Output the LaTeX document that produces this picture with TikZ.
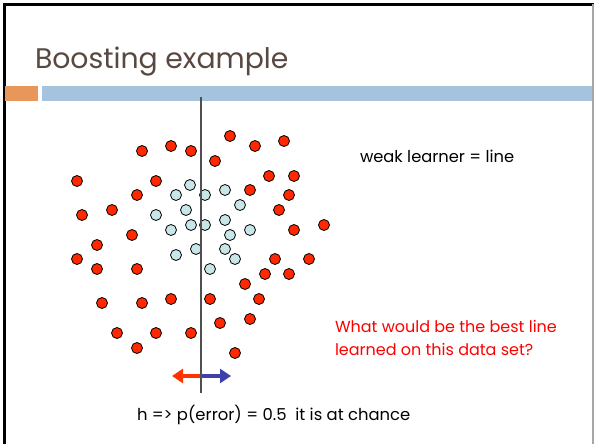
\documentclass[tikz,border=0pt]{standalone}
\usepackage{fontspec}
\setmainfont{Poppins}[Ligatures={NoCommon}]
\usetikzlibrary{arrows.meta}
\definecolor{titlebrown}{RGB}{88,72,64}
\definecolor{barorange}{RGB}{232,150,90}
\definecolor{barblue}{RGB}{165,195,220}
\definecolor{dotred}{RGB}{255,40,0}
\definecolor{dotblue}{RGB}{200,230,232}
\definecolor{txtred}{RGB}{255,0,0}
\definecolor{arrred}{RGB}{255,51,0}
\definecolor{arrblue}{RGB}{64,64,170}
\definecolor{axisgray}{RGB}{80,80,80}
\tikzset{
  reddot/.style={circle,draw=black,line width=0.8pt,fill=dotred,minimum size=11pt,inner sep=0pt},
  bluedot/.style={circle,draw=black,line width=0.8pt,fill=dotblue,minimum size=11pt,inner sep=0pt},
  txt/.style={anchor=base west,inner sep=0pt,outer sep=0pt},
  bigarrow/.style={line width=4.5pt,-{Triangle[width=14pt,length=11pt]}}
}
\begin{document}
\begin{tikzpicture}[x=1pt,y=-1pt]
\useasboundingbox (0,0) rectangle (594,444);
\fill[white] (0,0) rectangle (594,444);
% frame
\draw[black,line width=2.5pt] (4.5,444) -- (4.5,4.5) -- (594,4.5);
\draw[gray!70,line width=1.5pt] (593,4.5) -- (593,444);
% bars
\fill[barorange] (5,86) rectangle (38,100.5);
\fill[barblue] (42,86) rectangle (592,100.5);
% title
\node[txt,text=titlebrown,font=\fontsize{28.3}{34}\selectfont] (title) at (35,69) {Boosting example};
% dots
\foreach \x/\y [count=\i] in {142/151,171/146,191/151,230/136,255/146,284/141,215/161,77/181,156/181,137/195,269/176,294/176,250/190,289/195,82/215,112/210,279/210,132/235,294/230,324/225,97/245,77/259,97/269,137/269,275/259,309/259,265/274,289/274,245/284,102/303,142/303,171/299,210/299,259/299,250/319,220/323,117/333,156/333,191/333,137/348,235/353}
  \node[reddot] (r\i) at (\x,\y) {};
\foreach \x/\y [count=\i] in {190/185,176/195,205/195,225/190,240/205,186/210,156/215,191/225,205/225,225/220,171/230,230/235,250/230,176/255,196/249,225/249,235/259,210/269}
  \node[bluedot] (b\i) at (\x,\y) {};
% arrows
\coordinate (ac) at (201,376);
\coordinate (al) at (172,376);
\coordinate (ar) at (231,376);
\draw[bigarrow,arrred] (ac) -- (al);
\draw[bigarrow,arrblue] (ac) -- (ar);
% separating line
\coordinate (ltop) at (201,97);
\coordinate (lbot) at (201,393);
\draw[axisgray,line width=1.2pt] (ltop) -- (lbot);
% texts
\node[txt,font=\fontsize{16.3}{19}\selectfont] (weak) at (360,162) {weak learner = line};
\node[txt,text=txtred,font=\fontsize{16}{19}\selectfont] (q1) at (335,332) {What would be the best line};
\node[txt,text=txtred,font=\fontsize{16}{19}\selectfont] (q2) at (335,355) {learned on this data set?};
\node[txt,font=\fontsize{16.4}{19}\selectfont] (h) at (137,420) {h => p(error) = 0.5\ \ it is at chance};
\end{tikzpicture}
\end{document}
